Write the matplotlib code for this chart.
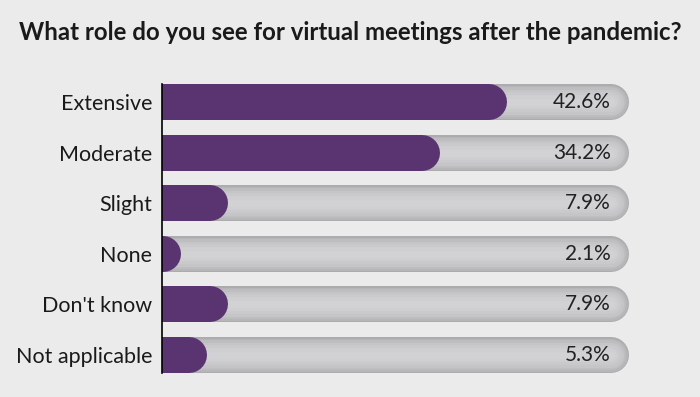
import matplotlib.pyplot as plt
import numpy as np

categories = ['Extensive', 'Moderate', 'Slight', 'None', "Don't know", 'Not applicable']
values = [42.6, 34.2, 7.9, 2.1, 7.9, 5.3]
value_labels = ['42.6%', '34.2%', '7.9%', '2.1%', '7.9%', '5.3%']
track_max = 58.0

plt.rcParams['font.family'] = ['Lato', 'DejaVu Sans']

bg = '#ebebeb'
purple = '#5a3470'

fig = plt.figure(figsize=(7, 3.97), dpi=100, facecolor=bg)
ax = fig.add_axes([162 / 700, 17 / 397, 478 / 700, 303 / 397])
ax.set_facecolor(bg)
ax.set_xlim(0, 59.4)
ax.set_ylim(5.5, -0.5)

# px per data unit, used to size the round caps
px_per_unit = 478 / 59.4
bar_px = 36
r = bar_px / 2 / px_per_unit
lw = bar_px * 72 / 100

# soft shading for the gray track: darker rim, lighter centre
shade = [(1.0, '#acacae'), (0.92, '#b6b6b8'), (0.82, '#bebec0'), (0.7, '#c5c5c7'),
         (0.55, '#cacacc'), (0.38, '#cfcfd1'), (0.2, '#d2d2d4')]

y = np.arange(len(categories))
for yi, v in zip(y, values):
    for frac, col in shade:
        ax.plot([-5, track_max - r], [yi, yi], color=col, lw=lw * frac,
                solid_capstyle='round', zorder=2)
    ax.plot([-5, v - r + 0.3], [yi, yi], color=purple, lw=lw, solid_capstyle='round', zorder=3)

for yi, lab in zip(y, value_labels):
    ax.text(track_max - 2.2, yi, lab, ha='right', va='center', fontsize=15,
            color='#222222', zorder=4)

ax.set_yticks(y)
ax.set_yticklabels(categories, fontsize=15.5, color='#1a1a1a')
ax.tick_params(axis='y', length=0, pad=7)
ax.set_xticks([])
for s in ['top', 'right', 'bottom']:
    ax.spines[s].set_visible(False)
ax.spines['left'].set_bounds(-0.36, 5.36)
ax.spines['left'].set_linewidth(1.2)
ax.spines['left'].set_zorder(5)

fig.text(0.5, 1 - 33 / 397, 'What role do you see for virtual meetings after the pandemic?',
         ha='center', va='center', fontsize=17.3, fontweight='bold', color='#1a1a1a')

fig.savefig('out.png', dpi=100, facecolor=bg)
